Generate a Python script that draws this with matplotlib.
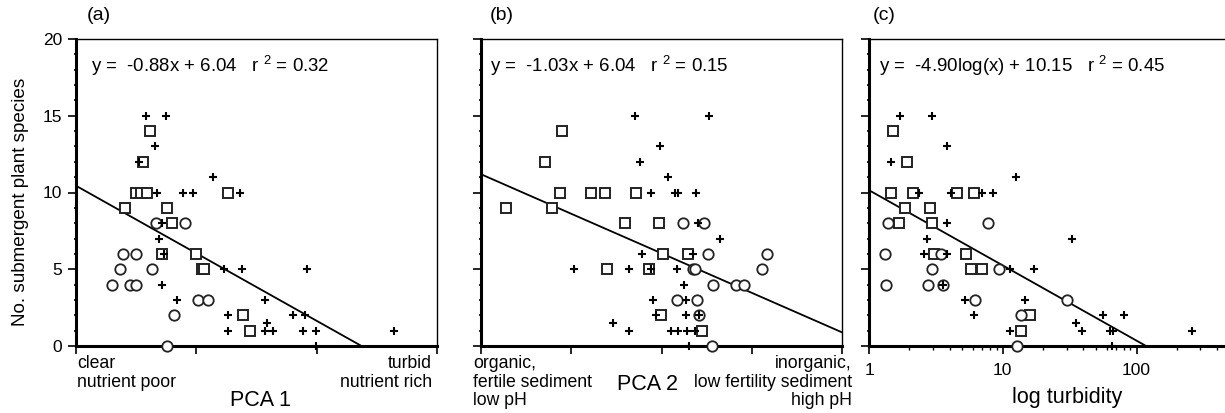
import numpy as np
import matplotlib
matplotlib.use("Agg")
import matplotlib.pyplot as plt
from matplotlib.ticker import MultipleLocator, LogLocator, NullFormatter

plt.rcParams['font.family'] = ['Liberation Sans', 'DejaVu Sans']
plt.rcParams['mathtext.fontset'] = 'custom'
plt.rcParams['mathtext.rm'] = 'Liberation Sans'
plt.rcParams['mathtext.it'] = 'Liberation Sans'

# ---- data ----
# (a) PCA 1
a_plus_x = [-2.10, -1.26, -1.72, -2.40, -1.65, -0.57, -0.15, 0.68, 1.82, -1.43, -1.57, -1.33, -1.43, -0.82,
            1.13, 1.90, 4.60, 2.86, 1.31, 4.01, 4.51, 2.94, 1.31, 2.86, 3.18, 4.43, 4.99, 8.22, 4.99]
a_plus_y = [15, 15, 13, 12, 10, 10, 10, 11, 10, 8, 7, 6, 4, 3,
            5, 5, 5, 3, 2, 2, 2, 1.5, 1, 1, 1, 1, 1, 1, 0]
a_sq_x = [-1.92, -2.21, -2.51, -2.30, -2.07, 1.32, -2.97, -1.22, -1.01, -1.44, 0.0, 0.24, 0.33, 1.93, 2.24]
a_sq_y = [14, 12, 10, 10, 10, 10, 9, 9, 8, 6, 6, 5, 5, 2, 1]
a_ci_x = [-1.68, -0.47, -3.04, -2.51, -3.18, -1.83, -3.49, -2.75, -2.51, 0.06, 0.50, -0.93, -1.22]
a_ci_y = [8, 8, 6, 6, 5, 5, 4, 4, 4, 3, 3, 2, 0]

# (b) PCA 2
b_plus_x = [-0.74, 1.32, -0.04, -0.60, 0.17, -0.29, 0.38, 0.46, 0.96, 1.00, 1.62, -0.55, 0.88, -2.41, -0.89,
            -0.28, 0.42, 0.62, -0.23, 0.67, -0.14, 0.68, 1.05, -1.34, -0.89, 0.27, 0.45, 0.71, 0.92, 0.77]
b_plus_y = [15, 15, 13, 12, 11, 10, 10, 10, 10, 8, 7, 6, 6, 5, 5,
            5, 5, 4, 3, 3, 2, 2, 2, 1.5, 1, 1, 1, 1, 1, 0]
b_sq_x = [-2.77, -3.22, -2.81, -1.96, -1.57, -0.70, -4.32, -3.02, -1.01, -0.07, 0.04, 0.74, -1.51, -0.36, -0.01, 1.11]
b_sq_y = [14, 12, 10, 10, 10, 10, 9, 9, 8, 8, 6, 6, 5, 5, 2, 1]
b_ci_x = [0.59, 1.19, 1.30, 2.92, 0.88, 0.94, 2.79, 1.44, 2.07, 2.29, 0.44, 0.99, 1.05, 1.40]
b_ci_y = [8, 8, 6, 6, 5, 5, 5, 4, 4, 4, 3, 3, 2, 0]

# (c) turbidity
c_plus_x = [1.70, 2.98, 3.8, 1.45, 12.5, 2.37, 4.07, 6.96, 8.51, 3.80, 32.9, 2.72, 2.56, 3.80, 11.35,
            17.2, 3.55, 5.22, 14.7, 6.10, 56.2, 81.3, 35.1, 11.4, 38.9, 63.1, 66.8, 258, 65.7]
c_plus_y = [15, 15, 13, 12, 11, 10, 10, 10, 10, 8, 7, 7, 6, 6, 5,
            5, 4, 3, 3, 2, 2, 2, 1.5, 1, 1, 1, 1, 1, 0]
c_sq_x = [1.51, 1.91, 1.46, 2.14, 4.52, 6.13, 1.85, 2.85, 1.67, 2.95, 3.04, 5.28, 5.82, 7.04, 15.85, 13.6]
c_sq_y = [14, 12, 10, 10, 10, 10, 9, 9, 8, 8, 6, 6, 5, 5, 2, 1]
c_ci_x = [1.39, 7.72, 1.31, 3.45, 2.97, 9.39, 1.35, 2.75, 3.55, 6.17, 30.4, 13.6, 12.8]
c_ci_y = [8, 8, 6, 6, 5, 5, 4, 4, 4, 3, 3, 2, 0]

# regressions
slopes = [-0.88, -1.03, -4.90]
intercepts = [6.04, 6.04, 10.15]
r2 = [0.32, 0.15, 0.45]

fig = plt.figure(figsize=(12.25, 4.13), dpi=100)
W, H = 1225, 413
FS = 12.7


def make_ax(left_px):
    return fig.add_axes([left_px / W, 1 - 346 / H, 361 / W, 307 / H])


def style(ax, ylabels):
    for s in ['left', 'bottom']:
        ax.spines[s].set_linewidth(2.2)
    for s in ['top', 'right']:
        ax.spines[s].set_linewidth(1.0)
    ax.set_ylim(0, 20)
    ax.yaxis.set_major_locator(MultipleLocator(5))
    ax.yaxis.set_minor_locator(MultipleLocator(1))
    ax.tick_params(axis='y', which='major', direction='out', length=6, width=1.2, pad=4, labelsize=12.5)
    ax.tick_params(axis='y', which='minor', direction='out', length=1.8, width=1.2)
    ax.tick_params(axis='x', which='major', direction='out', length=6, width=1.2, labelsize=12.5)
    ax.tick_params(axis='x', which='minor', direction='out', length=3, width=1.0)
    if not ylabels:
        ax.set_yticklabels([])


def scatter(ax, px, py, sx, sy, cx, cy):
    ax.plot(px, py, '+', color='black', ms=6, mew=1.5, clip_on=False, zorder=5)
    ax.plot(sx, sy, 's', mfc='white', mec='#222222', ms=7.5, mew=1.4, clip_on=False, zorder=4)
    ax.plot(cx, cy, 'o', mfc='white', mec='#222222', ms=7.5, mew=1.3, clip_on=False, zorder=4)


def eq_text(ax, x, i, logx=False):
    body = "log(x)" if logx else "x"
    s = "y =  %.2f%s + %.2f   r $^{2}$ = %.2f" % (slopes[i], body, intercepts[i], r2[i])
    ax.text(x, 0.892, s, transform=ax.transAxes, fontsize=13.4, ha='left', va='baseline')


# ---- (a) ----
ax = make_ax(76)
style(ax, True)
ax.set_xlim(-5, 10)
ax.set_xticks([-5, 0, 5, 10])
ax.set_xticklabels([])
scatter(ax, a_plus_x, a_plus_y, a_sq_x, a_sq_y, a_ci_x, a_ci_y)
x0 = -intercepts[0] / slopes[0]
xl = np.linspace(-5, x0, 50)
ax.plot(xl, slopes[0] * xl + intercepts[0], color='black', lw=1.3, zorder=3)
eq_text(ax, 0.042, 0)
ax.text(0.03, 1.078, "(a)", transform=ax.transAxes, fontsize=14, ha='left', va='center')
ax.text(0.003, -0.03, "clear\nnutrient poor", transform=ax.transAxes, fontsize=FS,
        ha='left', va='top', linespacing=1.12)
ax.text(0.986, -0.03, "turbid\nnutrient rich", transform=ax.transAxes, fontsize=FS,
        ha='right', va='top', multialignment='right', linespacing=1.12)
ax.text(0.51, -0.179, "PCA 1", transform=ax.transAxes, fontsize=15.5, ha='center', va='center')
ax.text(-0.155, 0.47, "No. submergent plant species", transform=ax.transAxes, fontsize=13.6,
        rotation=90, ha='center', va='center')

# ---- (b) ----
ax = make_ax(481)
style(ax, False)
ax.set_xlim(-5, 5)
ax.set_xticks([-5, -2.5, 0, 2.5, 5])
ax.set_xticklabels([])
scatter(ax, b_plus_x, b_plus_y, b_sq_x, b_sq_y, b_ci_x, b_ci_y)
xl = np.linspace(-5, 5, 50)
ax.plot(xl, slopes[1] * xl + intercepts[1], color='black', lw=1.3, zorder=3)
eq_text(ax, 0.025, 1)
ax.text(0.025, 1.078, "(b)", transform=ax.transAxes, fontsize=14, ha='left', va='center')
ax.text(-0.022, -0.03, "organic,\nfertile sediment\nlow pH", transform=ax.transAxes, fontsize=FS,
        ha='left', va='top', linespacing=1.12)
ax.text(1.028, -0.03, "inorganic,\nlow fertility sediment\nhigh pH", transform=ax.transAxes,
        fontsize=FS, ha='right', va='top', multialignment='right', linespacing=1.12)
ax.text(0.46, -0.127, "PCA 2", transform=ax.transAxes, fontsize=15.5, ha='center', va='center')

# ---- (c) ----
ax = make_ax(869)
style(ax, False)
ax.set_xscale('log')
ax.set_xlim(1, 500)
ax.set_xticks([1, 10, 100])
ax.set_xticklabels(['1', '10', '100'])
ax.xaxis.set_minor_locator(LogLocator(base=10, subs=np.arange(2, 10)))
ax.xaxis.set_minor_formatter(NullFormatter())
ax.tick_params(axis='x', which='major', pad=6)
scatter(ax, c_plus_x, c_plus_y, c_sq_x, c_sq_y, c_ci_x, c_ci_y)
x0 = 10 ** (-intercepts[2] / slopes[2])
xl = np.logspace(0, np.log10(x0), 50)
ax.plot(xl, slopes[2] * np.log10(xl) + intercepts[2], color='black', lw=1.3, zorder=3)
eq_text(ax, 0.028, 2, logx=True)
ax.text(0.011, 1.078, "(c)", transform=ax.transAxes, fontsize=14, ha='left', va='center')
ax.text(0.548, -0.169, "log turbidity", transform=ax.transAxes, fontsize=15.5, ha='center', va='center')

fig.savefig("out.png", dpi=100)
